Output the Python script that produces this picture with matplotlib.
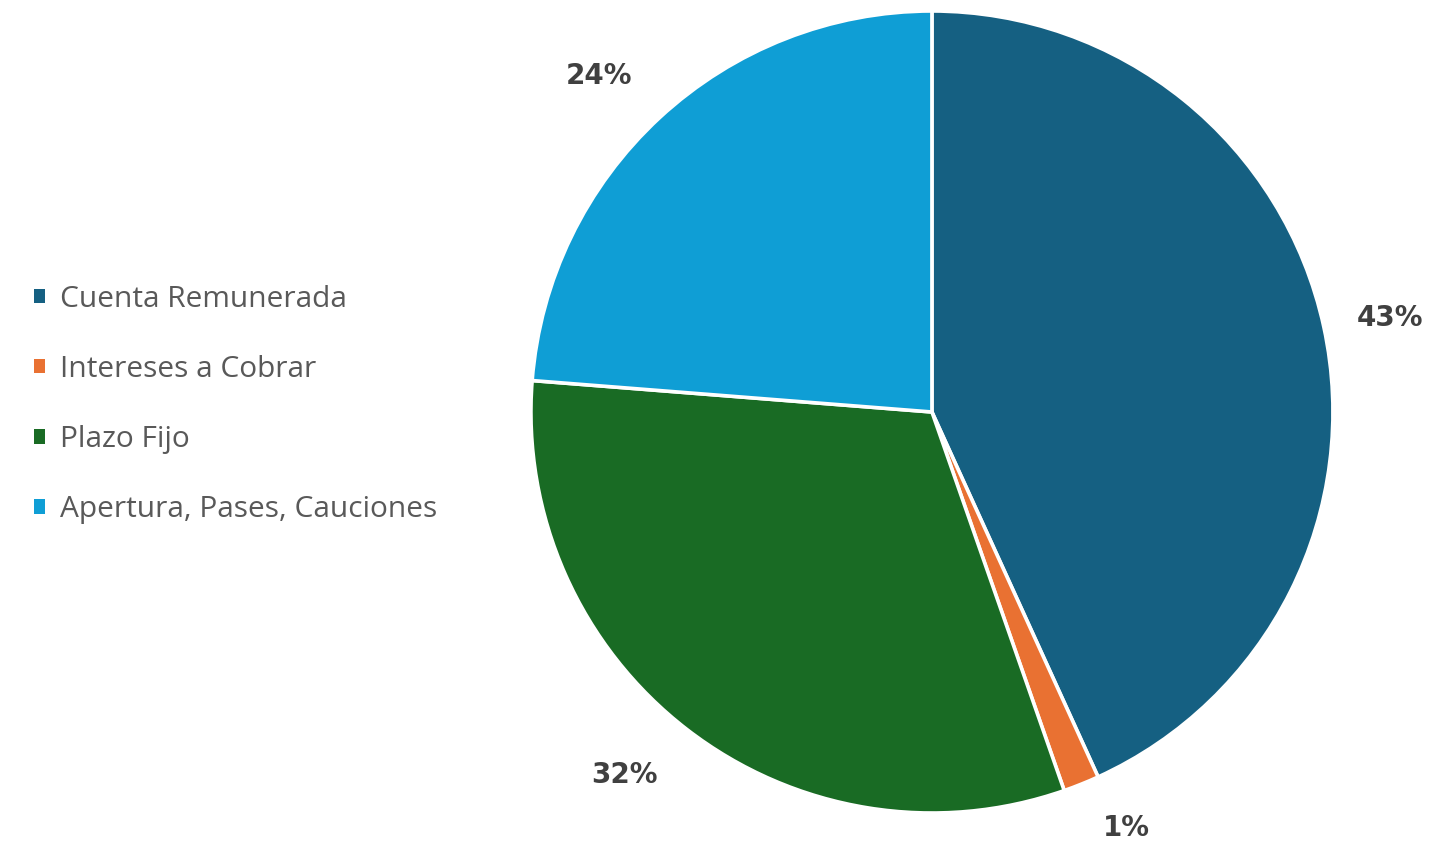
import numpy as np
import matplotlib.pyplot as plt

categories = ['Cuenta Remunerada', 'Intereses a Cobrar', 'Plazo Fijo', 'Apertura, Pases, Cauciones']
values = [43.2, 1.45, 31.6, 23.75]
colors = ['#156082', '#E97132', '#196B24', '#0F9ED5']

# label placement tweaks (radius factor, angle shift in degrees clockwise)
label_r = [1.166, 1.145, 1.187, 1.181]
label_shift = [0.6, -3.2, 2.7, -2.0]

fig = plt.figure(figsize=(14.31, 8.46), dpi=100)
ax = fig.add_axes([0.371, 0.039, 0.5605, 0.948])

wedges, texts, autotexts = ax.pie(
    values, colors=colors, startangle=90, counterclock=False,
    autopct=lambda p: '%d%%' % round(p), pctdistance=1.17,
    wedgeprops=dict(edgecolor='white', linewidth=2.6),
    textprops=dict(fontsize=20, fontweight='bold', color='#404040',
                   family='DejaVu Sans'))

cum = np.cumsum([0] + values) / sum(values) * 360
for i, t in enumerate(autotexts):
    a = np.deg2rad((cum[i] + cum[i + 1]) / 2 + label_shift[i])
    t.set_position((label_r[i] * np.sin(a), label_r[i] * np.cos(a)))

ax.set_xlim(-1, 1)
ax.set_ylim(-1, 1)
ax.set_aspect('equal')
ax.axis('off')

fig.legend(wedges, categories, loc='center left', bbox_to_anchor=(0.005, 0.522),
           frameon=False, labelcolor='#595959',
           prop=dict(family='Open Sans', size=21.5),
           handlelength=0.38, handleheight=0.38, handletextpad=0.5,
           labelspacing=1.38)
for h in fig.legends[0].legend_handles:
    h.set_edgecolor('none')

fig.savefig('out.png', dpi=100)
